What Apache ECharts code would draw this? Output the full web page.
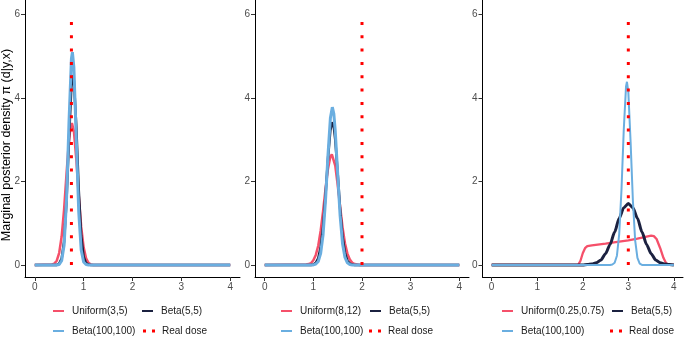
<!DOCTYPE html>
<html>
<head>
<meta charset="utf-8">
<script src="https://cdn.jsdelivr.net/npm/echarts@6/dist/echarts.min.js"></script>
<style>
  html, body { margin: 0; padding: 0; background: #fff; }
  #chart { width: 685px; height: 339px; }
</style>
</head>
<body>
<div id="chart"></div>
<script>
// values, [dose, density]
const p1Uniform = [[0,0],[0.35,0.01],[0.40,0.03],[0.45,0.10],[0.50,0.29],[0.55,0.68],[0.60,1.33],[0.65,2.19],[0.70,2.98],[0.73,3.28],[0.76,3.40],[0.80,3.21],[0.85,2.53],[0.90,1.66],[0.95,0.91],[1.00,0.42],[1.05,0.16],[1.10,0.05],[1.15,0.01],[1.20,0],[4,0]];
const p1Beta55 = [[0,0],[0.45,0],[0.50,0.03],[0.55,0.15],[0.60,0.56],[0.65,1.53],[0.70,3.01],[0.75,4.29],[0.78,4.55],[0.80,4.43],[0.85,3.32],[0.90,1.80],[0.95,0.70],[1.00,0.20],[1.05,0.04],[1.10,0.01],[1.15,0],[4,0]];
const p1Beta100 = [[0,0],[0.45,0],[0.50,0.01],[0.55,0.10],[0.60,0.47],[0.65,1.56],[0.70,3.41],[0.75,4.94],[0.77,5.10],[0.80,4.74],[0.85,3.01],[0.90,1.27],[0.95,0.36],[1.00,0.07],[1.05,0.01],[1.10,0],[4,0]];

const p2Uniform = [[0,0],[0.85,0.01],[0.90,0.02],[0.95,0.04],[1.00,0.11],[1.05,0.24],[1.10,0.46],[1.15,0.82],[1.20,1.29],[1.25,1.82],[1.30,2.30],[1.35,2.60],[1.38,2.65],[1.40,2.63],[1.45,2.38],[1.50,1.92],[1.55,1.40],[1.60,0.90],[1.65,0.52],[1.70,0.27],[1.75,0.13],[1.80,0.05],[1.85,0.02],[1.90,0.01],[1.95,0],[4,0]];
const p2Beta55 = [[0,0],[0.95,0],[1.00,0.01],[1.05,0.05],[1.10,0.16],[1.15,0.42],[1.20,0.92],[1.25,1.67],[1.30,2.54],[1.35,3.23],[1.39,3.42],[1.42,3.31],[1.45,3.00],[1.50,2.20],[1.55,1.34],[1.60,0.68],[1.65,0.29],[1.70,0.10],[1.75,0.03],[1.80,0.01],[1.85,0],[4,0]];
const p2Beta100 = [[0,0],[1.00,0],[1.05,0.02],[1.10,0.08],[1.15,0.28],[1.20,0.73],[1.25,1.55],[1.30,2.62],[1.35,3.52],[1.39,3.78],[1.42,3.63],[1.45,3.21],[1.50,2.18],[1.55,1.18],[1.60,0.51],[1.65,0.18],[1.70,0.05],[1.75,0.01],[1.80,0],[4,0]];

const p3Uniform = [[0,0],[1.90,0],[1.95,0.10],[2.00,0.28],[2.05,0.40],[2.10,0.45],[2.20,0.47],[2.50,0.51],[2.80,0.56],[3.00,0.59],[3.20,0.63],[3.40,0.68],[3.50,0.70],[3.56,0.69],[3.62,0.62],[3.70,0.40],[3.77,0.17],[3.83,0.04],[3.88,0],[4,0]];
const p3Beta55 = [[0,0],[2.0,0],[2.1,0.01],[2.2,0.02],[2.3,0.05],[2.4,0.12],[2.5,0.27],[2.6,0.49],[2.7,0.79],[2.8,1.12],[2.9,1.37],[3.0,1.47],[3.1,1.37],[3.2,1.12],[3.3,0.79],[3.4,0.49],[3.5,0.27],[3.6,0.12],[3.7,0.05],[3.8,0.02],[3.9,0.01],[4.0,0]];
const p3Beta100 = [[0,0],[2.60,0],[2.65,0.01],[2.70,0.05],[2.75,0.22],[2.80,0.74],[2.85,1.80],[2.90,3.24],[2.95,4.28],[2.97,4.39],[3.00,4.15],[3.05,2.95],[3.10,1.55],[3.15,0.59],[3.20,0.17],[3.25,0.03],[3.30,0],[4,0]];

const realDose = [0.75, 2, 3];
const realDoseTop = 5.82;
const uniformNames = ["Uniform(3,5)", "Uniform(8,12)", "Uniform(0.25,0.75)"];
const xTicks = [0, 1, 2, 3, 4];
const yTicks = [0, 2, 4, 6];

const panels = [
  { uniform: p1Uniform, beta55: p1Beta55, beta100: p1Beta100 },
  { uniform: p2Uniform, beta55: p2Beta55, beta100: p2Beta100 },
  { uniform: p3Uniform, beta55: p3Beta55, beta100: p3Beta100 },
];

const RED = "#f5506a";
const NAVY = "#1b2140";
const BLUE = "#6aaee0";
const DOSE = "#ff0000";
const FONT = "Liberation Sans";

const grids = [
  { left: 25, top: 0, width: 215, height: 277 },
  { left: 255, top: 0, width: 214, height: 277 },
  { left: 482.5, top: 0, width: 200.5, height: 277 },
];
const widths = [
  { red: 2.5, navy: 2.5, blue: 3 },
  { red: 2.5, navy: 2.5, blue: 3 },
  { red: 2.3, navy: 3, blue: 2 },
];

const axisCommon = {
  axisLine: { show: true, onZero: false, lineStyle: { color: "#000", width: 1 } },
  axisTick: { show: true, lineStyle: { color: "#333" }, length: 4 },
  axisLabel: { color: "#4d4d4d", fontSize: 10, fontFamily: FONT, margin: 5 },
  splitLine: { show: false },
};

const xAxis = grids.map((g, i) => ({
  ...axisCommon,
  type: "value",
  gridIndex: i,
  min: -0.2,
  max: 4.2,
  axisTick: { ...axisCommon.axisTick, customValues: xTicks },
  axisLabel: { ...axisCommon.axisLabel, customValues: xTicks },
}));

const yAxis = grids.map((g, i) => ({
  ...axisCommon,
  type: "value",
  gridIndex: i,
  min: -0.29,
  max: 6.35,
  axisTick: { ...axisCommon.axisTick, customValues: yTicks },
  axisLabel: { ...axisCommon.axisLabel, customValues: yTicks },
}));

const series = [];
panels.forEach((p, i) => {
  const base = { type: "line", xAxisIndex: i, yAxisIndex: i, symbol: "none", silent: true };
  series.push({ ...base, name: uniformNames[i], data: p.uniform, lineStyle: { color: RED, width: widths[i].red }, itemStyle: { color: RED } });
  series.push({ ...base, name: "Beta(5,5)", data: p.beta55, smooth: i === 2 ? 0.25 : false, smoothMonotone: "x", lineStyle: { color: NAVY, width: widths[i].navy }, itemStyle: { color: NAVY } });
  series.push({ ...base, name: "Beta(100,100)", data: p.beta100, lineStyle: { color: BLUE, width: widths[i].blue }, itemStyle: { color: BLUE } });
  series.push({
    ...base,
    name: "Real dose",
    data: [[realDose[i], 0], [realDose[i], realDoseTop]],
    lineStyle: { color: DOSE, width: 3, type: [3, 10.33], cap: "butt" },
    itemStyle: { color: DOSE },
  });
});

// one legend per key so the two-by-two layout under each panel can be placed
const legendKeys = [
  [uniformNames[0], 53, 306], ["Beta(5,5)", 142, 306], ["Beta(100,100)", 53, 326], ["Real dose", 143, 326],
  [uniformNames[1], 281, 306], ["Beta(5,5)", 370, 306], ["Beta(100,100)", 281, 326], ["Real dose", 369, 326],
  [uniformNames[2], 502, 306], ["Beta(5,5)", 612, 306], ["Beta(100,100)", 502, 326], ["Real dose", 610, 326],
];
const legend = legendKeys.map(([name, left, top]) => {
  const isDose = name === "Real dose";
  return {
    data: [name],
    left: left,
    top: top,
    padding: 0,
    icon: isDose ? "path://M0,0h3v3h-3z M9,0h3v3h-3z" : "rect",
    itemWidth: isDose ? 12 : 11,
    itemHeight: isDose ? 3 : 2,
    selectedMode: false,
    textStyle: { fontSize: 10, color: "#1a1a1a", fontFamily: FONT, padding: [0, 0, 0, isDose ? 2 : 3] },
  };
});

const chart = echarts.init(document.getElementById("chart"), null, { renderer: "canvas" });
chart.setOption({
  animation: false,
  backgroundColor: "#fff",
  grid: grids,
  xAxis: xAxis,
  yAxis: yAxis,
  legend: legend,
  series: series,
  graphic: [
    {
      type: "text",
      x: 7,
      y: 145,
      rotation: Math.PI / 2,
      style: {
        text: "Marginal posterior density π (d|y,x)",
        fontSize: 12.5,
        fontFamily: FONT,
        fill: "#000",
        align: "center",
        verticalAlign: "middle",
      },
    },
  ],
});
</script>
</body>
</html>
